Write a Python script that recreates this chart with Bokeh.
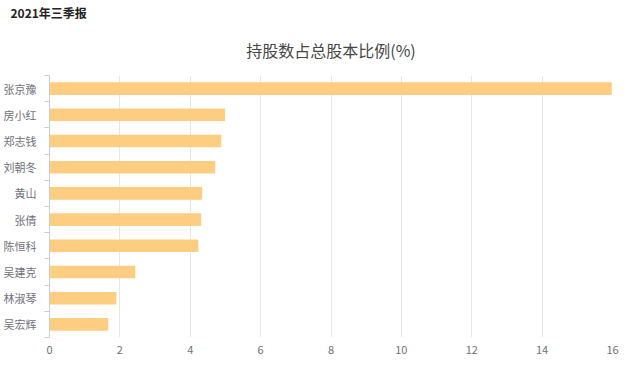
from bokeh.plotting import figure
from bokeh.models import Range1d, FixedTicker, Title, ColumnDataSource
from bokeh.embed import file_html
from bokeh.resources import INLINE

names = ["张京豫", "房小红", "郑志钱", "刘朝冬", "黄山", "张倩", "陈恒科", "吴建克", "林淑琴", "吴宏辉"]
ratios = [15.98, 4.99, 4.88, 4.71, 4.34, 4.31, 4.23, 2.44, 1.90, 1.67]
x_ticks = [0, 2, 4, 6, 8, 10, 12, 14, 16]
report = "2021年三季报"
chart_title = "持股数占总股本比例(%)"

FONT = "Noto Sans CJK SC"
pos = list(range(len(names)))
src = ColumnDataSource(dict(y=pos, v=ratios, name=names))

p = figure(width=624, height=358, output_backend="svg", toolbar_location=None,
           x_range=Range1d(0, 16), y_range=Range1d(len(names) - 0.5, -0.5),
           min_border_left=39, min_border_right=12, min_border_top=10, min_border_bottom=21)
p.outline_line_color = None
p.background_fill_color = "white"

p.hbar(y="y", right="v", left=0, height=0.48, source=src,
       fill_color="#FDCD82", line_color=None)

# titles
t1 = Title(text=chart_title, align="center", text_font=FONT, text_font_size="16px",
           text_font_style="normal", text_color="#464646", standoff=28)
p.add_layout(t1, "above")
t2 = Title(text=report, align="left", text_font=FONT, text_font_size="12px",
           text_font_style="bold", text_color="#222222", offset=-39, standoff=2)
p.add_layout(t2, "above")

# x axis
xa = p.xaxis[0]
xa.ticker = FixedTicker(ticks=x_ticks)
xa.axis_line_color = None
xa.major_tick_line_color = None
xa.minor_tick_line_color = None
xa.major_label_text_font = FONT
xa.major_label_text_font_size = "11px"
xa.major_label_text_color = "#6E7079"
xa.major_label_standoff = 2

# y axis
ya = p.yaxis[0]
ya.ticker = FixedTicker(ticks=pos, minor_ticks=[i - 0.5 for i in range(len(names) + 1)])
ya.major_label_overrides = {i: n for i, n in enumerate(names)}
ya.major_tick_out = 0
ya.major_tick_in = 0
ya.minor_tick_out = 5
ya.minor_tick_in = 0
ya.minor_tick_line_color = "#C9CDD6"
ya.axis_line_color = "#C9CDD6"
ya.major_label_text_font = FONT
ya.major_label_text_font_size = "11px"
ya.major_label_text_color = "#6E7079"
ya.major_label_standoff = 8

p.xgrid.grid_line_color = "#E6E6E6"
p.ygrid.grid_line_color = None

open("out.html", "w").write(file_html(p, INLINE))
